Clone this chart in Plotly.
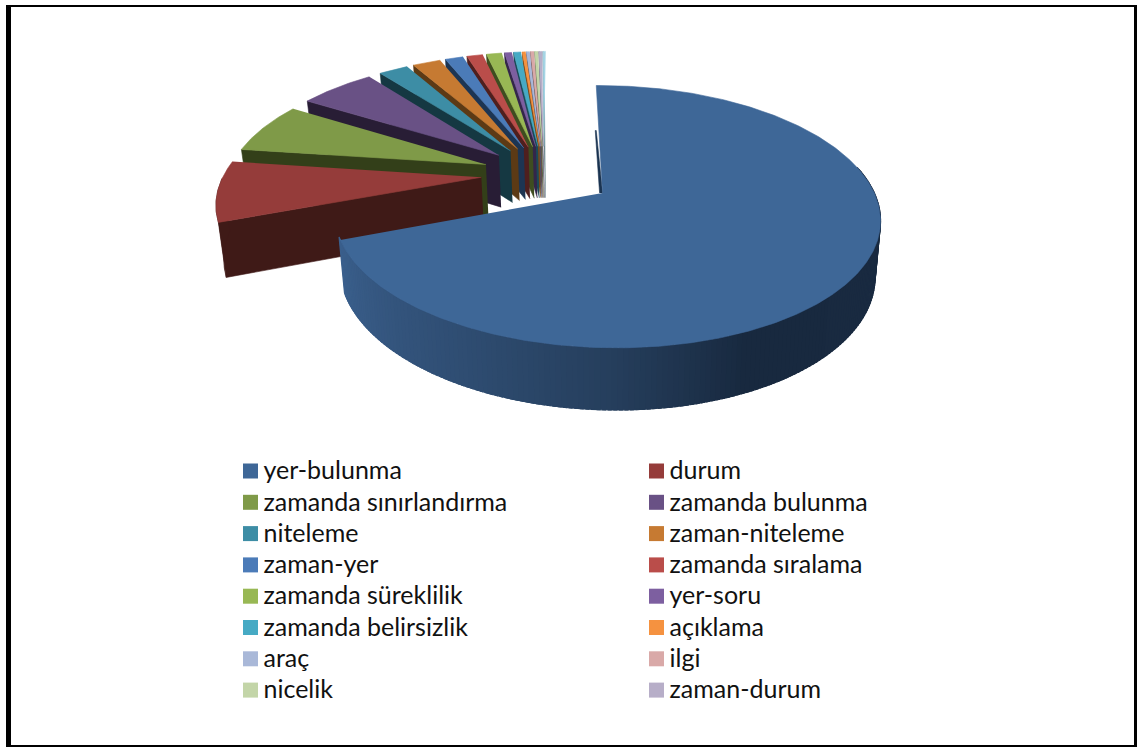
import numpy as np
import plotly.graph_objects as go

categories = ["yer-bulunma", "durum", "zamanda sınırlandırma", "zamanda bulunma", "niteleme",
              "zaman-niteleme", "zaman-yer", "zamanda sıralama", "zamanda süreklilik", "yer-soru",
              "zamanda belirsizlik", "açıklama", "araç", "ilgi", "nicelik", "zaman-durum", ""]
values = [69.5, 7.9, 6.7, 5.7, 2.2, 2.1, 1.35, 1.2, 1.15, 0.55, 0.55, 0.25, 0.25, 0.25, 0.25, 0.25, 0.2]
top_colors = ["#3E6797", "#953C3A", "#7F9A48", "#695185", "#3D8DA5", "#C67A32", "#4B7BB8", "#BA4D4A",
              "#98B854", "#7D5FA0", "#46AAC4", "#F59240", "#A9B8D8", "#D9A9A8", "#C3D5A8", "#B7AEC8", "#A5D5E5"]
wall_colors = ["#1A2C44", "#3F1A17", "#333F19", "#281D35", "#153842", "#5C3A15", "#1D3553", "#4F1F1E",
               "#3E4D20", "#33264A", "#1B4A57", "#7A4818", "#4A5570", "#6A4A4A", "#5A6A48", "#544C62", "#50707A"]

# view of the tilted pie
CX, CY = 544, 174
EXPLODE = 0.24
P, B = 0.1765, 120.5
A, R, Q = 262, 0.012, 2
DEPTH, VX, VF = 53, 610, 0.98
MAIN_DX, MAIN_DY, MAIN_SCALE = 6, 2, 0.995
WALL_ANGLES = [115, 155, 180, 207, 250]
WALL_SHADES = [(26, 43, 65), (24, 41, 63), (38, 63, 93), (47, 77, 114), (59, 96, 141)]


def project(X, Y, low=False, main=False):
    X, Y = np.asarray(X, float), np.asarray(Y, float)
    w = 1 + P * Y - R * X
    sx = CX + (A * X * (MAIN_SCALE if main else 1) + Q * Y) / w
    sy = CY - B * Y / w
    if main:
        sx, sy = sx + MAIN_DX, sy + MAIN_DY
    if low:
        sy = sy + DEPTH / w ** 0.7
        sx = VX + (sx - VX) * VF
    return sx, sy


fig = go.Figure()


def poly(xs, ys, color, name="", width=0.6):
    fig.add_trace(go.Scatter(x=list(xs), y=list(ys), mode="lines", fill="toself", fillcolor=color,
                             line=dict(color=color, width=width), showlegend=False,
                             hoverinfo="skip" if not name else "name", name=name))


edges = np.cumsum([0] + values) / sum(values) * 360


def draw_slice(i):
    a0, a1 = edges[i], edges[i + 1]
    mid = np.radians((a0 + a1) / 2)
    ox, oy = EXPLODE * np.sin(mid), EXPLODE * np.cos(mid)
    n = max(3, int((a1 - a0) * 1.5))
    th = np.radians(np.linspace(a0, a1, n))
    ax, ay = ox + np.sin(th), oy + np.cos(th)
    m = i == 0
    if m:
        # thin inner wall along the first edge
        x1, y1 = project([ox, ax[0]], [oy, ay[0]], main=True)
        poly([x1[0], x1[1], x1[1] - 1, x1[0] - 3], [y1[0], y1[1] + 45, y1[1] + 45, y1[0]], "#1A3350")
        # curved outer wall with shading
        deg = np.arange(78, 251, 1.0)
        for d0, d1 in zip(deg[:-1], deg[1:]):
            t = np.radians([d0, d1 + 0.6])
            px, py = ox + np.sin(t), oy + np.cos(t)
            tx, ty = project(px, py, main=True)
            lx, ly = project(px, py, low=True, main=True)
            mid_d = (d0 + d1) / 2
            rgb = [int(np.interp(mid_d, WALL_ANGLES, [s[k] for s in WALL_SHADES])) for k in range(3)]
            poly([tx[0], tx[1], lx[1], lx[0]], [ty[0], ty[1], ly[1], ly[0]], "rgb(%d,%d,%d)" % tuple(rgb), width=1.2)
    else:
        # wall along the first edge, seen from the front
        tx, ty = project([ox, ax[0]], [oy, ay[0]])
        lx, ly = project([ox, ax[0]], [oy, ay[0]], low=True)
        poly([tx[0], tx[1], lx[1], lx[0]], [ty[0], ty[1], ly[1], ly[0]], wall_colors[i])
        # outer wall part that faces the viewer
        front = np.cos(th) < 0
        if front.sum() > 1:
            tx, ty = project(ax[front], ay[front])
            lx, ly = project(ax[front], ay[front], low=True)
            poly(list(tx) + list(lx[::-1]), list(ty) + list(ly[::-1]), wall_colors[i])
    sx, sy = project(np.r_[ox, ax], np.r_[oy, ay], main=m)
    poly(sx, sy, top_colors[i], categories[i])


for i in range(len(values) - 1, -1, -1):
    draw_slice(i)

# legend, two columns
for i, (name, color) in enumerate(zip(categories[:16], top_colors[:16])):
    row, col = i // 2, i % 2
    x0, y0 = 250.5 + 406 * col, 471 + row * 31.3
    fig.add_trace(go.Scatter(x=[x0], y=[y0], mode="markers",
                             marker=dict(symbol="square", size=15, color=color, line=dict(width=0)),
                             showlegend=False, hoverinfo="skip"))
    fig.add_trace(go.Scatter(x=[x0 + 13], y=[y0 + 2], mode="text", text=[name], textposition="middle right",
                             textfont=dict(family="Lato", size=25, color="#111111"),
                             showlegend=False, hoverinfo="skip"))

frame = [(6, 5, 11, 747), (6, 5, 1137, 7), (1134, 5, 1137, 747), (6, 745, 1137, 747)]
shapes = [dict(type="rect", xref="x", yref="y", x0=a, y0=b, x1=c, y1=d,
               fillcolor="#000000", line=dict(width=0)) for a, b, c, d in frame]

fig.update_layout(width=1137, height=747, margin=dict(l=0, r=0, t=0, b=0), paper_bgcolor="white",
                  plot_bgcolor="white", showlegend=False, shapes=shapes,
                  xaxis=dict(range=[0, 1137], visible=False, fixedrange=True),
                  yaxis=dict(range=[747, 0], visible=False, fixedrange=True))
fig.write_html("out.html", config=dict(displayModeBar=False),
               post_script="document.body.style.margin='0';document.documentElement.style.overflow='hidden';")
